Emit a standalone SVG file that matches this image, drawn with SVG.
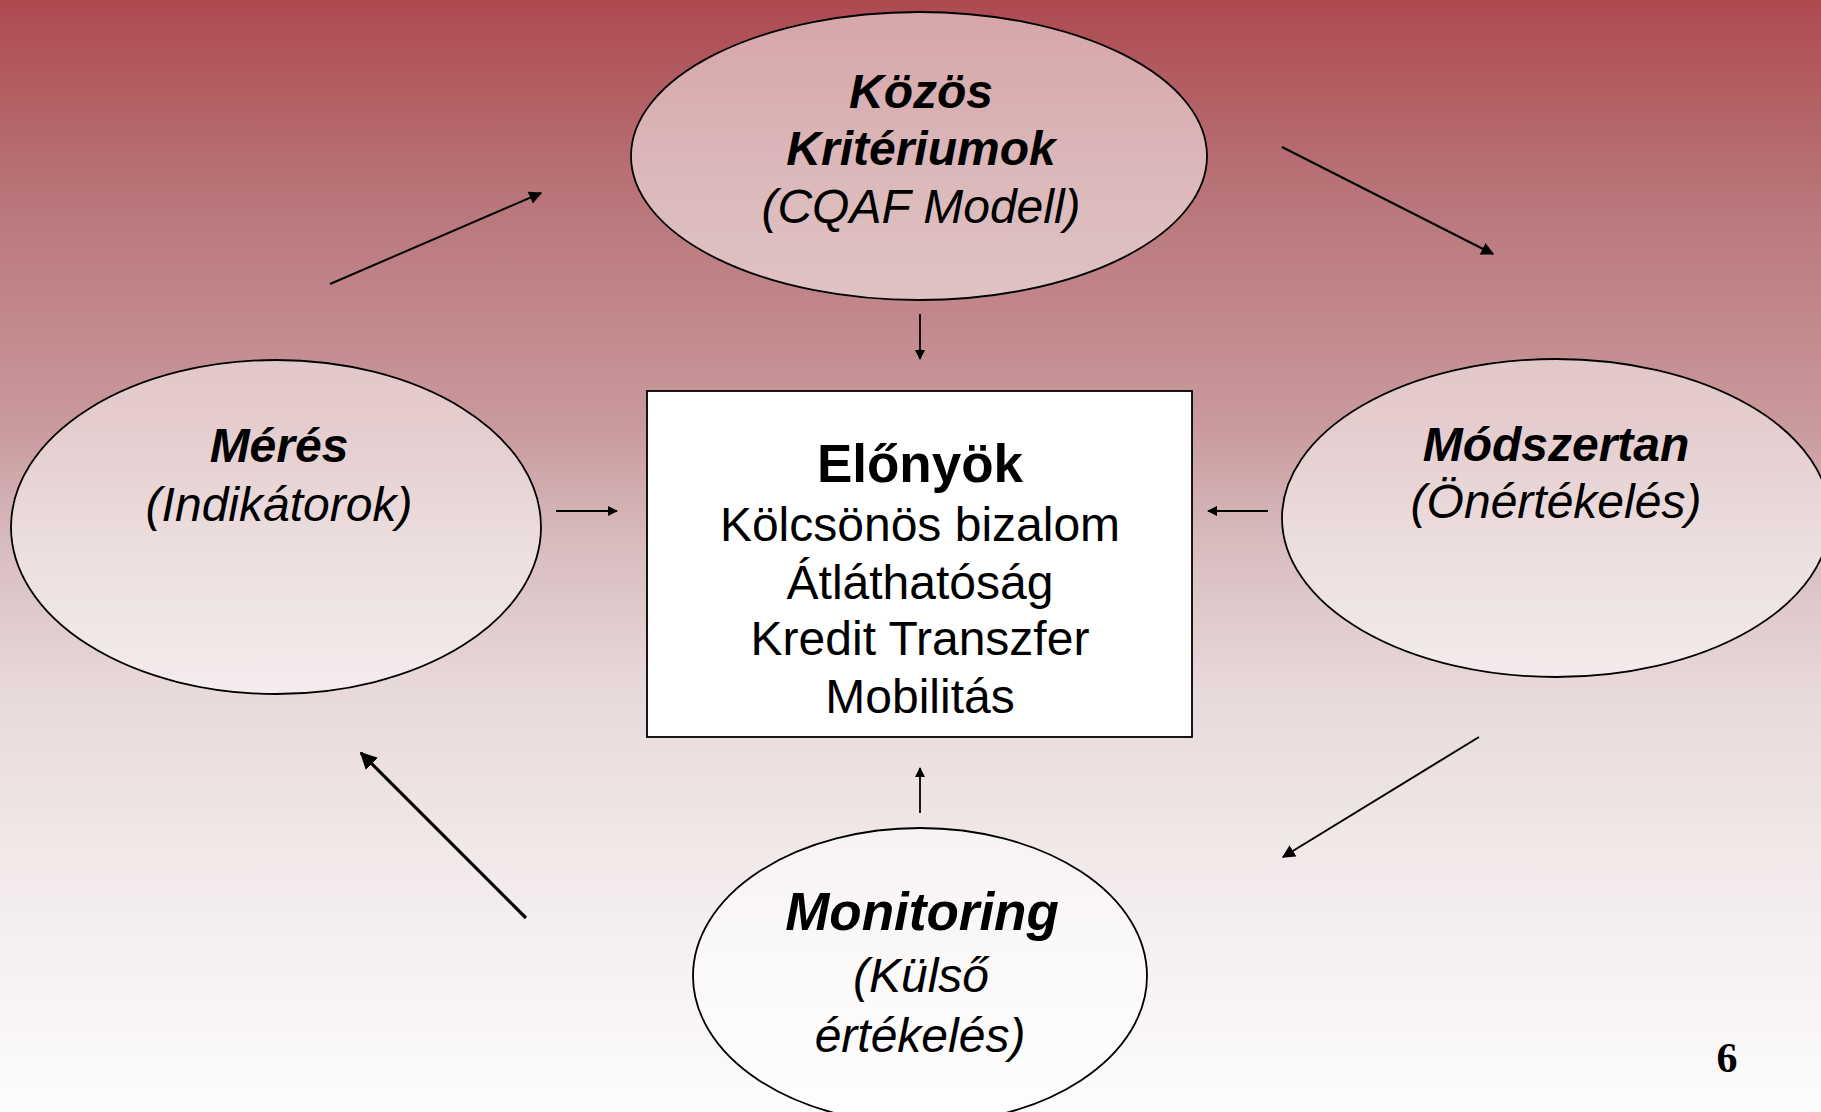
<svg xmlns="http://www.w3.org/2000/svg" width="1821" height="1112" viewBox="0 0 1821 1112">
<defs>
<linearGradient id="bg" x1="0" y1="0" x2="0" y2="1">
<stop offset="0" stop-color="#ad4a50"/>
<stop offset="0.18" stop-color="#b9767a"/>
<stop offset="0.38" stop-color="#c9999c"/>
<stop offset="0.5" stop-color="#d9bfc1"/>
<stop offset="0.62" stop-color="#e8d9da"/>
<stop offset="0.78" stop-color="#f2eaea"/>
<stop offset="1" stop-color="#fdfcfc"/>
</linearGradient>
<marker id="ah" viewBox="0 0 10 10" refX="9" refY="5" markerWidth="10" markerHeight="10" markerUnits="userSpaceOnUse" orient="auto">
<path d="M0,0 L10,5 L0,10 z" fill="#000"/>
</marker>
<marker id="ahs" viewBox="0 0 10 10" refX="9" refY="5" markerWidth="13" markerHeight="13" markerUnits="userSpaceOnUse" orient="auto">
<path d="M0,0 L10,5 L0,10 z" fill="#000"/>
</marker>
<marker id="ahb" viewBox="0 0 10 10" refX="9" refY="5" markerWidth="17" markerHeight="17" markerUnits="userSpaceOnUse" orient="auto">
<path d="M0,0 L10,5 L0,10 z" fill="#000"/>
</marker>
</defs>
<style>
.ell{fill:#fff;fill-opacity:0.5;stroke:#000;stroke-width:1.8}
.bi{font-family:"Liberation Sans",Arial,sans-serif;font-weight:bold;font-style:italic;font-size:48px;text-anchor:middle;fill:#000}
.it{font-family:"Liberation Sans",Arial,sans-serif;font-style:italic;font-size:48px;text-anchor:middle;fill:#000}
.rg{font-family:"Liberation Sans",Arial,sans-serif;font-size:48px;text-anchor:middle;fill:#000}
.bd{font-family:"Liberation Sans",Arial,sans-serif;font-weight:bold;font-size:53px;text-anchor:middle;fill:#000}
.c{fill:none;stroke:#000}
</style>
<rect x="0" y="0" width="1821" height="1112" fill="url(#bg)"/>
<g id="kozos">
<ellipse class="ell" cx="919" cy="156" rx="288" ry="144"/>
<text class="bi" x="921" y="108">Közös</text>
<text class="bi" x="921" y="165">Kritériumok</text>
<text class="it" x="921" y="223">(CQAF Modell)</text>
</g>
<g id="meres">
<ellipse class="ell" cx="276" cy="527" rx="265" ry="167"/>
<text class="bi" x="279" y="462">Mérés</text>
<text class="it" x="279" y="521">(Indikátorok)</text>
</g>
<g id="modszertan">
<ellipse class="ell" cx="1556" cy="518" rx="274" ry="159"/>
<text class="bi" x="1556" y="461">Módszertan</text>
<text class="it" x="1556" y="518">(Önértékelés)</text>
</g>
<g id="monitoring">
<ellipse class="ell" cx="920" cy="976" rx="227" ry="148"/>
<text class="bi" x="922" y="930" style="font-size:53px">Monitoring</text>
<text class="it" x="921" y="992">(Külső</text>
<text class="it" x="920" y="1052">értékelés)</text>
</g>
<g id="elonyok">
<rect x="647" y="391" width="545" height="346" fill="#fff" stroke="#000" stroke-width="1.8"/>
<text class="bd" x="920" y="482">Előnyök</text>
<text class="rg" x="920" y="541">Kölcsönös bizalom</text>
<text class="rg" x="920" y="599">Átláthatóság</text>
<text class="rg" x="920" y="655">Kredit Transzfer</text>
<text class="rg" x="920" y="713">Mobilitás</text>
</g>
<g id="connectors">
<line class="c" x1="330" y1="284" x2="541" y2="193" stroke-width="2" marker-end="url(#ahs)"/>
<line class="c" x1="1282" y1="147" x2="1493" y2="254" stroke-width="2" marker-end="url(#ahs)"/>
<line class="c" x1="920" y1="314" x2="920" y2="359" stroke-width="1.8" marker-end="url(#ah)"/>
<line class="c" x1="556" y1="511" x2="617" y2="511" stroke-width="1.8" marker-end="url(#ah)"/>
<line class="c" x1="1268" y1="511" x2="1208" y2="511" stroke-width="1.8" marker-end="url(#ah)"/>
<line class="c" x1="920" y1="813" x2="920" y2="768" stroke-width="1.8" marker-end="url(#ah)"/>
<line class="c" x1="526" y1="918" x2="361" y2="753" stroke-width="3.2" marker-end="url(#ahb)"/>
<line class="c" x1="1479" y1="737" x2="1283" y2="857" stroke-width="2" marker-end="url(#ahs)"/>
</g>
<text x="1727" y="1072" style="font-family:'Liberation Serif','Times New Roman',serif;font-weight:bold;font-size:42px;text-anchor:middle;fill:#000">6</text>
</svg>
